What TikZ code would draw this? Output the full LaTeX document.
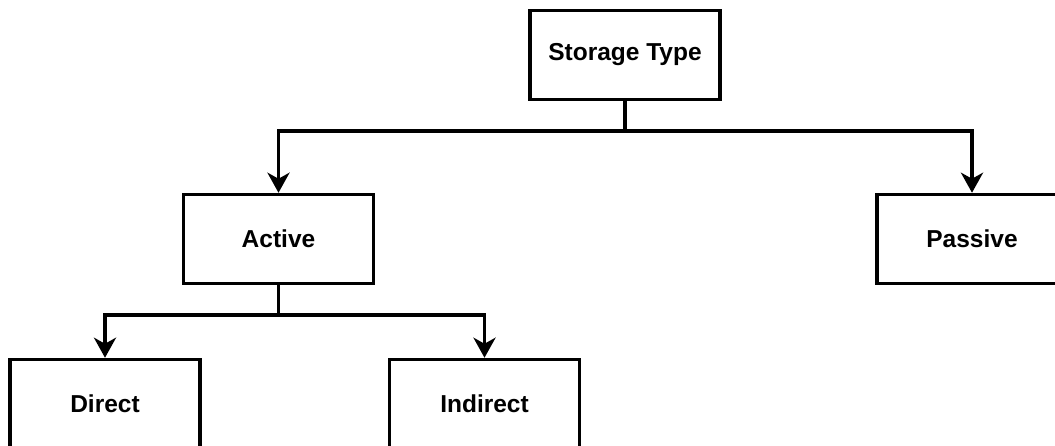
\documentclass[tikz,border=0pt]{standalone}
\usepackage{fontspec}
\setmainfont{Liberation Sans}
\usetikzlibrary{arrows.meta}

\begin{document}
\begin{tikzpicture}[x=1pt,y=1pt,
    box/.style={draw,line width=3.5pt,minimum width=190pt,minimum height=89pt,
      font=\fontsize{24.5}{28}\selectfont\bfseries,fill=white},
    link/.style={line width=3.5pt,-{Stealth[length=20pt,width=22pt,inset=6pt]}}]
      \useasboundingbox (0,0) rectangle (1055,446);
      \node[box] (type) at (625,391) {Storage Type};
      \node[box] (active) at (278.5,207) {Active};
      \node[box] (passive) at (972,207) {Passive};
      \node[box] (direct) at (105,42) {Direct};
      \node[box] (indirect) at (484.5,42) {Indirect};
        % tree edges
      \draw[link] (type.south) -- ++(0,-30) -| (active.north);
      \draw[link] (type.south) -- ++(0,-30) -| (passive.north);
      \draw[link] (active.south) -- ++(0,-30) -| (direct.north);
      \draw[link] (active.south) -- ++(0,-30) -| (indirect.north);
    \end{tikzpicture}
\end{document}
